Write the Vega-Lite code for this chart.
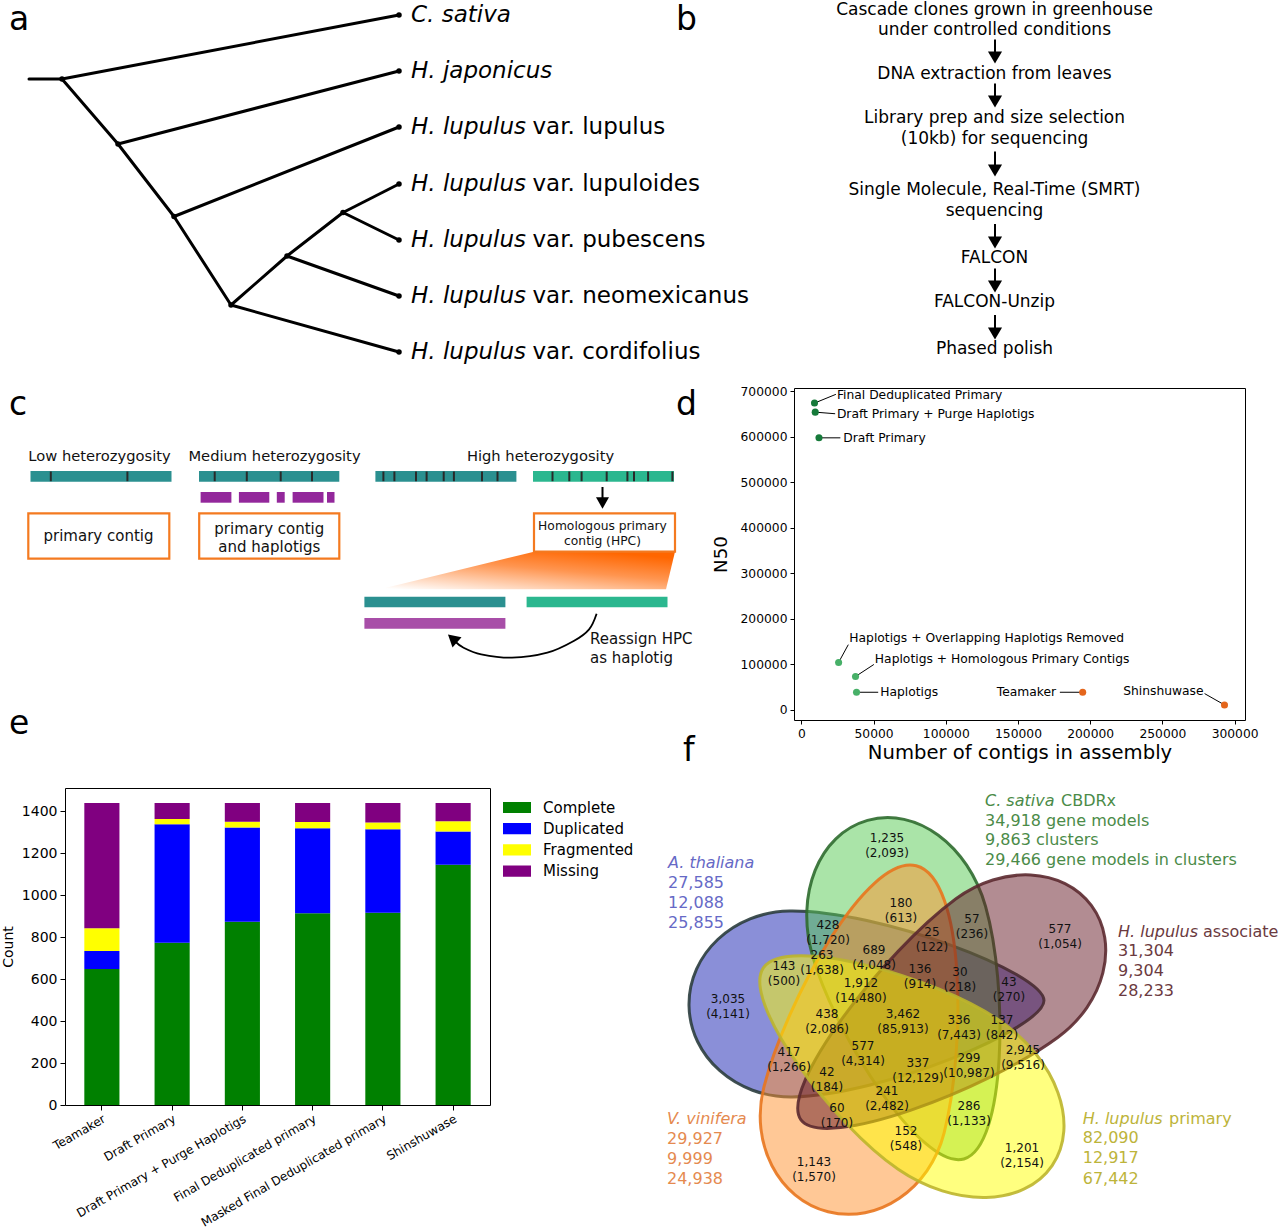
{
"$schema":"https://vega.github.io/schema/vega-lite/v6.json",
"padding":0,
"background":"#ffffff",
"spacing":0,
"resolve":{"scale":{"color":"independent"},"legend":{"color":"independent"}},
"config":{"view":{"stroke":null},"font":"DejaVu Sans","axis":{"labelColor":"#000000","titleColor":"#000000","tickColor":"#000000","grid":false,"titleFontWeight":"normal","domain":false},"concat":{"spacing":0}},
"datasets":{
"tree_edges":[{"x":28,"y":79,"x2":61,"y2":79},{"x":61,"y":79,"x2":398,"y2":15},{"x":61,"y":79,"x2":117,"y2":144},{"x":117,"y":144,"x2":398,"y2":71},{"x":117,"y":144,"x2":173,"y2":216.5},{"x":173,"y":216.5,"x2":398,"y2":127},{"x":173,"y":216.5,"x2":230,"y2":305},{"x":230,"y":305,"x2":286,"y2":256},{"x":230,"y":305,"x2":398,"y2":352},{"x":286,"y":256,"x2":342,"y2":212.5},{"x":286,"y":256,"x2":398,"y2":296},{"x":342,"y":212.5,"x2":398,"y2":184},{"x":342,"y":212.5,"x2":398,"y2":240}],
"tree_nodes":[{"x":61,"y":79},{"x":117,"y":144},{"x":173,"y":216.5},{"x":230,"y":305},{"x":286,"y":256},{"x":342,"y":212.5},{"x":398,"y":15},{"x":398,"y":71},{"x":398,"y":127},{"x":398,"y":184},{"x":398,"y":240},{"x":398,"y":296},{"x":398,"y":352}],
"tree_labels":[{"x":410,"xr":531.5,"y":15,"it":"C. sativa","rest":""},{"x":410,"xr":531.5,"y":71,"it":"H. japonicus","rest":""},{"x":410,"xr":531.5,"y":127,"it":"H. lupulus","rest":"var. lupulus"},{"x":410,"xr":531.5,"y":184,"it":"H. lupulus","rest":"var. lupuloides"},{"x":410,"xr":531.5,"y":240,"it":"H. lupulus","rest":"var. pubescens"},{"x":410,"xr":531.5,"y":296,"it":"H. lupulus","rest":"var. neomexicanus"},{"x":410,"xr":531.5,"y":352,"it":"H. lupulus","rest":"var. cordifolius"}],
"flow_text":[{"x":993.5,"y":10,"t":"Cascade clones grown in greenhouse"},{"x":993.5,"y":30,"t":"under controlled conditions"},{"x":993.5,"y":73.5,"t":"DNA extraction from leaves"},{"x":993.5,"y":117.5,"t":"Library prep and size selection"},{"x":993.5,"y":138.5,"t":"(10kb) for sequencing"},{"x":993.5,"y":190,"t":"Single Molecule, Real-Time (SMRT)"},{"x":993.5,"y":210.5,"t":"sequencing"},{"x":993.5,"y":257.5,"t":"FALCON"},{"x":993.5,"y":301.5,"t":"FALCON-Unzip"},{"x":993.5,"y":349,"t":"Phased polish"}],
"flow_arrows":[{"x":994,"y":39.5,"y2":57.5},{"x":994,"y":83.5,"y2":101.5},{"x":994,"y":151.5,"y2":170.5},{"x":994,"y":224,"y2":242.5},{"x":994,"y":268.5,"y2":286.5},{"x":994,"y":315,"y2":333.5}],
"letters_ab":[{"x":8,"y":30,"t":"a"},{"x":675,"y":30,"t":"b"}],
"letters_c":[{"x":8,"y":414,"t":"c"},{"x":675,"y":414,"t":"d"},{"x":8,"y":733,"t":"e"},{"x":682,"y":760,"t":"f"}],
"headers_c":[{"x":98.5,"y":455.5,"t":"Low heterozygosity"},{"x":273.5,"y":455.5,"t":"Medium heterozygosity"},{"x":539.5,"y":455.5,"t":"High heterozygosity"}],
"bars_c":[{"x":29.5,"x2":170.5,"y":470,"y2":480.7,"kind":"teal"},{"x":198,"x2":338.3,"y":470,"y2":480.7,"kind":"teal"},{"x":374.4,"x2":515.4,"y":470,"y2":480.7,"kind":"teal"},{"x":532,"x2":673,"y":470,"y2":480.7,"kind":"green"},{"x":199.6,"x2":230.4,"y":491,"y2":501.7,"kind":"purple"},{"x":237.9,"x2":268.3,"y":491,"y2":501.7,"kind":"purple"},{"x":275.8,"x2":283.7,"y":491,"y2":501.7,"kind":"purple"},{"x":291.6,"x2":322.5,"y":491,"y2":501.7,"kind":"purple"},{"x":326,"x2":333.5,"y":491,"y2":501.7,"kind":"purple"},{"x":363.4,"x2":504.4,"y":595.7,"y2":606.3,"kind":"teal"},{"x":525.6,"x2":666.5,"y":595.7,"y2":606.3,"kind":"green"},{"x":363.4,"x2":504.4,"y":617,"y2":627.7,"kind":"lpurple"}],
"ticks_c":[{"x":49.8,"y":470.5,"y2":480.2},{"x":126.4,"y":470.5,"y2":480.2},{"x":213.7,"y":470.5,"y2":480.2},{"x":245.8,"y":470.5,"y2":480.2},{"x":279.7,"y":470.5,"y2":480.2},{"x":311,"y":470.5,"y2":480.2},{"x":382.4,"y":470.5,"y2":480.2},{"x":393.4,"y":470.5,"y2":480.2},{"x":415,"y":470.5,"y2":480.2},{"x":425.6,"y":470.5,"y2":480.2},{"x":442.7,"y":470.5,"y2":480.2},{"x":452.9,"y":470.5,"y2":480.2},{"x":481,"y":470.5,"y2":480.2},{"x":496.5,"y":470.5,"y2":480.2},{"x":551.5,"y":470.5,"y2":480.2},{"x":568.3,"y":470.5,"y2":480.2},{"x":580.6,"y":470.5,"y2":480.2},{"x":605.7,"y":470.5,"y2":480.2},{"x":626.4,"y":470.5,"y2":480.2},{"x":633,"y":470.5,"y2":480.2},{"x":647.1,"y":470.5,"y2":480.2},{"x":671.4,"y":470.5,"y2":480.2}],
"boxes_c":[{"x":27.3,"x2":168.3,"y":512.3,"y2":557.7},{"x":198.2,"x2":338.3,"y":512.3,"y2":557.7},{"x":533,"x2":674,"y":512.3,"y2":550.7}],
"boxtext_c":[{"x":97.5,"y":534.5,"t":"primary contig"},{"x":268.3,"y":527.7,"t":"primary contig"},{"x":268.3,"y":545.7,"t":"and haplotigs"}],
"hpctext_c":[{"x":601.5,"y":525.3,"t":"Homologous primary"},{"x":601.5,"y":540.3,"t":"contig (HPC)"}],
"wedge_c":[{"y":550.7,"x":533,"x2":674},{"y":588.3,"x":379,"x2":665}],
"downarrow_c":[{"x":601.5,"y":486,"y2":502}],
"curve_c":[{"i":0,"x":595.6,"y":612.7},{"i":1,"x":588.1,"y":628.3},{"i":2,"x":572.7,"y":640},{"i":3,"x":546.3,"y":651.7},{"i":4,"x":511,"y":656.7},{"i":5,"x":480.2,"y":653.3},{"i":6,"x":462.6,"y":646.7},{"i":7,"x":453,"y":639.5}],
"arrowhead_c":[{"x":451.5,"y":637.5}],
"reassign_c":[{"x":589,"y":638.3,"t":"Reassign HPC"},{"x":589,"y":657.3,"t":"as haplotig"}],
"assemblies":[{"name":"Final Deduplicated Primary","contigs":9100,"n50":673600,"group":"primary","lx":23900,"ly":692800,"tx":23900,"ty":690600,"side":"left"},{"name":"Draft Primary + Purge Haplotigs","contigs":9600,"n50":653700,"group":"primary","lx":23400,"ly":650200,"tx":23900,"ty":650200,"side":"left"},{"name":"Draft Primary","contigs":12200,"n50":597300,"group":"primary","lx":27000,"ly":597300,"tx":28300,"ty":597300,"side":"left"},{"name":"Haplotigs + Overlapping Haplotigs Removed","contigs":25800,"n50":104300,"group":"haplotig","lx":32500,"ly":143300,"tx":32500,"ty":157800,"side":"left"},{"name":"Haplotigs + Homologous Primary Contigs","contigs":37500,"n50":73400,"group":"haplotig","lx":50200,"ly":99800,"tx":50200,"ty":112400,"side":"left"},{"name":"Haplotigs","contigs":38200,"n50":38800,"group":"haplotig","lx":53200,"ly":38800,"tx":53900,"ty":38800,"side":"left"},{"name":"Teamaker","contigs":194800,"n50":38800,"group":"other","lx":179000,"ly":38800,"tx":177100,"ty":38800,"side":"right"},{"name":"Shinshuwase","contigs":293000,"n50":11000,"group":"other","lx":279200,"ly":35900,"tx":279200,"ty":42500,"side":"right"}],
"busco":[{"assembly":"Teamaker","category":"Complete","count":649},{"assembly":"Teamaker","category":"Duplicated","count":86},{"assembly":"Teamaker","category":"Fragmented","count":108},{"assembly":"Teamaker","category":"Missing","count":597},{"assembly":"Draft Primary","category":"Complete","count":774},{"assembly":"Draft Primary","category":"Duplicated","count":565},{"assembly":"Draft Primary","category":"Fragmented","count":25},{"assembly":"Draft Primary","category":"Missing","count":76},{"assembly":"Draft Primary + Purge Haplotigs","category":"Complete","count":874},{"assembly":"Draft Primary + Purge Haplotigs","category":"Duplicated","count":450},{"assembly":"Draft Primary + Purge Haplotigs","category":"Fragmented","count":27},{"assembly":"Draft Primary + Purge Haplotigs","category":"Missing","count":89},{"assembly":"Final Deduplicated primary","category":"Complete","count":914},{"assembly":"Final Deduplicated primary","category":"Duplicated","count":406},{"assembly":"Final Deduplicated primary","category":"Fragmented","count":30},{"assembly":"Final Deduplicated primary","category":"Missing","count":90},{"assembly":"Masked Final Deduplicated primary","category":"Complete","count":917},{"assembly":"Masked Final Deduplicated primary","category":"Duplicated","count":398},{"assembly":"Masked Final Deduplicated primary","category":"Fragmented","count":33},{"assembly":"Masked Final Deduplicated primary","category":"Missing","count":92},{"assembly":"Shinshuwase","category":"Complete","count":1146},{"assembly":"Shinshuwase","category":"Duplicated","count":159},{"assembly":"Shinshuwase","category":"Fragmented","count":49},{"assembly":"Shinshuwase","category":"Missing","count":86}],
"venn_sets":[{"set":"A. thaliana","x":790,"y":1004},{"set":"C. sativa","x":898,"y":931},{"set":"V. vinifera","x":853,"y":1110},{"set":"H. lupulus associate","x":1006,"y":968},{"set":"H. lupulus primary","x":948,"y":1095}],
"venn_regions":[{"n":"1,235","m":"(2,093)","x":886,"y":845.5},{"n":"180","m":"(613)","x":900,"y":910},{"n":"428","m":"(1,720)","x":827,"y":932},{"n":"25","m":"(122)","x":931,"y":939},{"n":"57","m":"(236)","x":971,"y":926.5},{"n":"689","m":"(4,048)","x":873,"y":957},{"n":"263","m":"(1,638)","x":821,"y":962.5},{"n":"143","m":"(500)","x":783,"y":973.5},{"n":"136","m":"(914)","x":919,"y":976.5},{"n":"30","m":"(218)","x":959,"y":979.5},{"n":"43","m":"(270)","x":1008,"y":989.5},{"n":"1,912","m":"(14,480)","x":860,"y":990.5},{"n":"3,035","m":"(4,141)","x":727,"y":1006},{"n":"577","m":"(1,054)","x":1059,"y":936.5},{"n":"438","m":"(2,086)","x":826,"y":1021.5},{"n":"3,462","m":"(85,913)","x":902,"y":1021.5},{"n":"336","m":"(7,443)","x":958,"y":1027.5},{"n":"137","m":"(842)","x":1001,"y":1027.5},{"n":"417","m":"(1,266)","x":788,"y":1059.5},{"n":"577","m":"(4,314)","x":862,"y":1053},{"n":"337","m":"(12,129)","x":917,"y":1070.5},{"n":"299","m":"(10,987)","x":968,"y":1065},{"n":"2,945","m":"(9,516)","x":1022,"y":1057.5},{"n":"42","m":"(184)","x":826,"y":1079},{"n":"241","m":"(2,482)","x":886,"y":1098.5},{"n":"60","m":"(170)","x":836,"y":1115},{"n":"286","m":"(1,133)","x":968,"y":1113.5},{"n":"152","m":"(548)","x":905,"y":1138.5},{"n":"1,201","m":"(2,154)","x":1021,"y":1155.5},{"n":"1,143","m":"(1,570)","x":813,"y":1169.5}],
"venn_side":[{"set":"C. sativa","x":984,"y":800.7,"t":"C. sativa","it":true},{"set":"C. sativa","x":1060,"y":800.7,"t":"CBDRx","it":false},{"set":"C. sativa","x":984,"y":820.5,"t":"34,918 gene models","it":false},{"set":"C. sativa","x":984,"y":840.3,"t":"9,863 clusters","it":false},{"set":"C. sativa","x":984,"y":860,"t":"29,466 gene models in clusters","it":false},{"set":"A. thaliana","x":667,"y":862.7,"t":"A. thaliana","it":true},{"set":"A. thaliana","x":667,"y":883.3,"t":"27,585","it":false},{"set":"A. thaliana","x":667,"y":903.3,"t":"12,088","it":false},{"set":"A. thaliana","x":667,"y":922.7,"t":"25,855","it":false},{"set":"H. lupulus associate","x":1117,"y":931.7,"t":"H. lupulus","it":true},{"set":"H. lupulus associate","x":1202,"y":931.7,"t":"associate","it":false},{"set":"H. lupulus associate","x":1117,"y":951,"t":"31,304","it":false},{"set":"H. lupulus associate","x":1117,"y":970.7,"t":"9,304","it":false},{"set":"H. lupulus associate","x":1117,"y":990.7,"t":"28,233","it":false},{"set":"V. vinifera","x":666,"y":1119,"t":"V. vinifera","it":true},{"set":"V. vinifera","x":666,"y":1139.3,"t":"29,927","it":false},{"set":"V. vinifera","x":666,"y":1159.3,"t":"9,999","it":false},{"set":"V. vinifera","x":666,"y":1179,"t":"24,938","it":false},{"set":"H. lupulus primary","x":1081.7,"y":1119,"t":"H. lupulus","it":true},{"set":"H. lupulus primary","x":1168,"y":1119,"t":"primary","it":false},{"set":"H. lupulus primary","x":1081.7,"y":1138.3,"t":"82,090","it":false},{"set":"H. lupulus primary","x":1081.7,"y":1158.3,"t":"12,917","it":false},{"set":"H. lupulus primary","x":1081.7,"y":1179,"t":"67,442","it":false}]
},
"vconcat":[
{
"width":1216,"height":384,
"encoding":{
"x":{"field":"x","type":"quantitative","scale":{"domain":[64,1280],"nice":false,"zero":false},"axis":null},
"y":{"field":"y","type":"quantitative","scale":{"domain":[0,384],"nice":false,"zero":false,"reverse":true},"axis":null}
},
"layer":[
{"data":{"name":"tree_edges"},"mark":{"type":"rule","strokeWidth":3,"color":"#000000","strokeCap":"round"},"encoding":{"x2":{"field":"x2"},"y2":{"field":"y2"}}},
{"data":{"name":"tree_nodes"},"mark":{"type":"point","filled":true,"size":30,"color":"#000000","opacity":1}},
{"data":{"name":"tree_labels"},"mark":{"type":"text","align":"left","baseline":"middle","fontSize":23,"fontStyle":"italic","color":"#000000"},"encoding":{"text":{"field":"it"}}},
{"data":{"name":"tree_labels"},"mark":{"type":"text","align":"left","baseline":"middle","fontSize":23,"color":"#000000"},"encoding":{"x":{"field":"xr","type":"quantitative","scale":{"domain":[64,1280],"nice":false,"zero":false},"axis":null},"text":{"field":"rest"}}},
{"data":{"name":"flow_text"},"mark":{"type":"text","align":"center","baseline":"middle","fontSize":17,"color":"#000000"},"encoding":{"text":{"field":"t"}}},
{"data":{"name":"flow_arrows"},"mark":{"type":"rule","strokeWidth":2,"color":"#000000"},"encoding":{"y2":{"field":"y2"}}},
{"data":{"name":"flow_arrows"},"mark":{"type":"point","shape":"triangle-down","filled":true,"size":200,"color":"#000000","opacity":1},"encoding":{"y":{"field":"y2","type":"quantitative","scale":{"domain":[0,384],"nice":false,"zero":false,"reverse":true},"axis":null}}},
{"data":{"name":"letters_ab"},"mark":{"type":"text","align":"left","baseline":"alphabetic","fontSize":33,"color":"#000000"},"encoding":{"text":{"field":"t"}}}
]
},
{"hconcat":[
{
"width":645,"height":399,
"encoding":{
"x":{"field":"x","type":"quantitative","scale":{"domain":[64,709],"nice":false,"zero":false},"axis":null},
"y":{"field":"y","type":"quantitative","scale":{"domain":[387,786],"nice":false,"zero":false,"reverse":true},"axis":null}
},
"layer":[
{"data":{"name":"wedge_c"},"mark":{"type":"area","orient":"horizontal","fill":{"gradient":"linear","x1":0.75,"y1":0,"x2":0.05,"y2":1,"stops":[{"offset":0,"color":"#ff6600"},{"offset":0.4,"color":"#ff9550"},{"offset":1,"color":"#ffffff"}]}},"encoding":{"x2":{"field":"x2"}}},
{"data":{"name":"bars_c"},"mark":{"type":"rect"},"encoding":{"x2":{"field":"x2"},"y2":{"field":"y2"},"color":{"field":"kind","type":"nominal","scale":{"domain":["teal","green","purple","lpurple"],"range":["#2b9090","#2bb78f","#93279b","#a84ea8"]},"legend":null}}},
{"data":{"name":"ticks_c"},"mark":{"type":"rule","strokeWidth":2,"color":"#2a2a2a"},"encoding":{"y2":{"field":"y2"}}},
{"data":{"name":"boxes_c"},"mark":{"type":"rect","fill":"#ffffff","stroke":"#f47a20","strokeWidth":2.2},"encoding":{"x2":{"field":"x2"},"y2":{"field":"y2"}}},
{"data":{"name":"boxtext_c"},"mark":{"type":"text","align":"center","baseline":"middle","fontSize":15,"color":"#111111"},"encoding":{"text":{"field":"t"}}},
{"data":{"name":"hpctext_c"},"mark":{"type":"text","align":"center","baseline":"middle","fontSize":12.3,"color":"#111111"},"encoding":{"text":{"field":"t"}}},
{"data":{"name":"headers_c"},"mark":{"type":"text","align":"center","baseline":"middle","fontSize":14.7,"color":"#111111"},"encoding":{"text":{"field":"t"}}},
{"data":{"name":"downarrow_c"},"mark":{"type":"rule","strokeWidth":2,"color":"#000000"},"encoding":{"y2":{"field":"y2"}}},
{"data":{"name":"downarrow_c"},"mark":{"type":"point","shape":"triangle-down","filled":true,"size":170,"color":"#000000","opacity":1},"encoding":{"y":{"field":"y2","type":"quantitative","scale":{"domain":[387,786],"nice":false,"zero":false,"reverse":true},"axis":null}}},
{"data":{"name":"curve_c"},"mark":{"type":"line","interpolate":"cardinal","strokeWidth":1.8,"color":"#000000"},"encoding":{"order":{"field":"i","type":"quantitative"}}},
{"data":{"name":"arrowhead_c"},"mark":{"type":"point","shape":"triangle-up","angle":310.7,"filled":true,"size":190,"color":"#000000","opacity":1}},
{"data":{"name":"reassign_c"},"mark":{"type":"text","align":"left","baseline":"middle","fontSize":15,"color":"#111111"},"encoding":{"text":{"field":"t"}}},
{"data":{"name":"letters_c"},"mark":{"type":"text","align":"left","baseline":"alphabetic","fontSize":33,"color":"#000000"},"encoding":{"text":{"field":"t"}}}
]
},
{
"width":451,"height":332,
"view":{"stroke":"#000000","strokeWidth":1},
"data":{"name":"assemblies"},
"encoding":{
"x":{"field":"contigs","type":"quantitative","title":"Number of contigs in assembly","scale":{"domain":[-5100,307200],"nice":false,"zero":false},"axis":{"values":[0,50000,100000,150000,200000,250000,300000],"format":"d","labelFontSize":12.3,"titleFontSize":19.6,"tickSize":4,"labelPadding":3,"titlePadding":4}},
"y":{"field":"n50","type":"quantitative","title":"N50","scale":{"domain":[-22100,706700],"nice":false,"zero":false},"axis":{"values":[0,100000,200000,300000,400000,500000,600000,700000],"format":"d","labelFontSize":12.3,"titleFontSize":18.3,"tickSize":4,"labelPadding":3,"titlePadding":10}}
},
"layer":[
{"mark":{"type":"rule","strokeWidth":1,"color":"#000000"},"encoding":{"x2":{"field":"lx"},"y2":{"field":"ly"}}},
{"mark":{"type":"point","filled":true,"size":50,"opacity":1},"encoding":{"color":{"field":"group","type":"nominal","scale":{"domain":["primary","haplotig","other"],"range":["#167a3a","#47b068","#e4661c"]},"legend":null}}},
{"transform":[{"filter":"datum.side == 'left'"}],"mark":{"type":"text","align":"left","baseline":"middle","fontSize":12.3,"dx":1,"color":"#000000"},"encoding":{"x":{"field":"tx","type":"quantitative","title":"Number of contigs in assembly","scale":{"domain":[-5100,307200],"nice":false,"zero":false}},"y":{"field":"ty","type":"quantitative","title":"N50","scale":{"domain":[-22100,706700],"nice":false,"zero":false}},"text":{"field":"name"}}},
{"transform":[{"filter":"datum.side == 'right'"}],"mark":{"type":"text","align":"right","baseline":"middle","fontSize":12.3,"dx":-1,"color":"#000000"},"encoding":{"x":{"field":"tx","type":"quantitative","title":"Number of contigs in assembly","scale":{"domain":[-5100,307200],"nice":false,"zero":false}},"y":{"field":"ty","type":"quantitative","title":"N50","scale":{"domain":[-22100,706700],"nice":false,"zero":false}},"text":{"field":"name"}}}
]
}
],"spacing":0,"resolve":{"scale":{"color":"independent"},"legend":{"color":"independent"}}},
{"hconcat":[
{
"width":425,"height":317,
"view":{"stroke":"#000000","strokeWidth":1},
"data":{"name":"busco"},
"mark":{"type":"bar"},
"encoding":{
"x":{"field":"assembly","type":"nominal","sort":["Teamaker","Draft Primary","Draft Primary + Purge Haplotigs","Final Deduplicated primary","Masked Final Deduplicated primary","Shinshuwase"],"scale":{"paddingInner":0.5,"paddingOuter":0.275},"axis":{"title":null,"labelAngle":-30,"labelAlign":"right","labelBaseline":"top","labelFontSize":12,"labelLimit":400,"tickSize":5,"labelPadding":3}},
"y":{"field":"count","type":"quantitative","stack":"zero","scale":{"domain":[0,1512],"nice":false},"axis":{"values":[0,200,400,600,800,1000,1200,1400],"format":"d","title":"Count","titleFontSize":14,"labelFontSize":14,"tickSize":5,"labelPadding":3,"titlePadding":6}},
"color":{"field":"category","type":"nominal","scale":{"domain":["Complete","Duplicated","Fragmented","Missing"],"range":["#008000","#0000ff","#ffff00","#800080"]},"legend":{"title":null,"orient":"none","legendX":438,"legendY":11.5,"symbolType":"M-1,-0.4H1V0.4H-1Z","symbolSize":784,"symbolStrokeWidth":0,"labelFontSize":15,"labelOffset":12,"clipHeight":16,"rowPadding":5.2,"padding":0,"labelColor":"#000000"}},
"order":{"field":"category","sort":"ascending"}
}
},
{
"width":646,"height":440,
"encoding":{
"x":{"field":"x","type":"quantitative","scale":{"domain":[634,1280],"nice":false,"zero":false},"axis":null},
"y":{"field":"y","type":"quantitative","scale":{"domain":[788,1228],"nice":false,"zero":false,"reverse":true},"axis":null}
},
"layer":[
{"data":{"name":"venn_sets"},"transform":[{"filter":"datum.set == 'A. thaliana'"}],"mark":{"type":"point","shape":"M-102,0C-102,-51.3,-56.3,-93,0,-93C88.6,-93,253,-27.9,253,0C253,27.9,88.6,93,0,93C-56.3,93,-102,51.3,-102,0Z","size":4,"angle":359.2,"filled":true,"fill":"#151fb1","fillOpacity":0.5,"stroke":"#2c3e3e","strokeWidth":3,"strokeOpacity":0.9,"opacity":1}},
{"data":{"name":"venn_sets"},"transform":[{"filter":"datum.set == 'C. sativa'"}],"mark":{"type":"point","shape":"M-115,0C-115,-50.8,-63.5,-90,0,-90C83,-90,237,-44,237,0C237,44,83,90,0,90C-63.5,90,-115,50.8,-115,0Z","size":4,"angle":74.1,"filled":true,"fill":"#55c951","fillOpacity":0.5,"stroke":"#2f6b2f","strokeWidth":3,"strokeOpacity":0.9,"opacity":1}},
{"data":{"name":"venn_sets"},"transform":[{"filter":"datum.set == 'V. vinifera'"}],"mark":{"type":"point","shape":"M-105,0C-105,-51.3,-58,-93,0,-93C88.2,-93,252,-51,252,0C252,51,88.2,93,0,93C-58,93,-105,51.3,-105,0Z","size":4,"angle":284.3,"filled":true,"fill":"#ff912d","fillOpacity":0.5,"stroke":"#e8761e","strokeWidth":3,"strokeOpacity":0.9,"opacity":1}},
{"data":{"name":"venn_sets"},"transform":[{"filter":"datum.set == 'H. lupulus associate'"}],"mark":{"type":"point","shape":"M-105,0C-105,-47.5,-58,-86,0,-86C89.6,-86,256,-38.7,256,0C256,38.7,89.6,86,0,86C-58,86,-105,47.5,-105,0Z","size":4,"angle":143.6,"filled":true,"fill":"#651925","fillOpacity":0.5,"stroke":"#5c2a30","strokeWidth":3,"strokeOpacity":0.9,"opacity":1}},
{"data":{"name":"venn_sets"},"transform":[{"filter":"datum.set == 'H. lupulus primary'"}],"mark":{"type":"point","shape":"M-125,0C-125,-49.7,-69,-90,0,-90C78.8,-90,225,-40.5,225,0C225,40.5,78.8,90,0,90C-69,90,-125,49.7,-125,0Z","size":4,"angle":214.4,"filled":true,"fill":"#ffff00","fillOpacity":0.5,"stroke":"#bdb52c","strokeWidth":3,"strokeOpacity":0.9,"opacity":1}},
{"data":{"name":"venn_regions"},"mark":{"type":"text","align":"center","baseline":"middle","fontSize":12,"dy":-7.5,"color":"#111111"},"encoding":{"text":{"field":"n"}}},
{"data":{"name":"venn_regions"},"mark":{"type":"text","align":"center","baseline":"middle","fontSize":12,"dy":7.5,"color":"#111111"},"encoding":{"text":{"field":"m"}}},
{"data":{"name":"venn_side"},"transform":[{"filter":"datum.it"}],"mark":{"type":"text","align":"left","baseline":"middle","fontSize":16,"fontStyle":"italic"},"encoding":{"text":{"field":"t"},"color":{"field":"set","type":"nominal","scale":{"domain":["C. sativa","A. thaliana","H. lupulus associate","V. vinifera","H. lupulus primary"],"range":["#4b8b48","#6669c6","#6b3a40","#e58a4f","#bdb43a"]},"legend":null}}},
{"data":{"name":"venn_side"},"transform":[{"filter":"!datum.it"}],"mark":{"type":"text","align":"left","baseline":"middle","fontSize":16},"encoding":{"text":{"field":"t"},"color":{"field":"set","type":"nominal","scale":{"domain":["C. sativa","A. thaliana","H. lupulus associate","V. vinifera","H. lupulus primary"],"range":["#4b8b48","#6669c6","#6b3a40","#e58a4f","#bdb43a"]},"legend":null}}}
]
}
],"spacing":0,"resolve":{"scale":{"color":"independent"},"legend":{"color":"independent"}}}
]
}
